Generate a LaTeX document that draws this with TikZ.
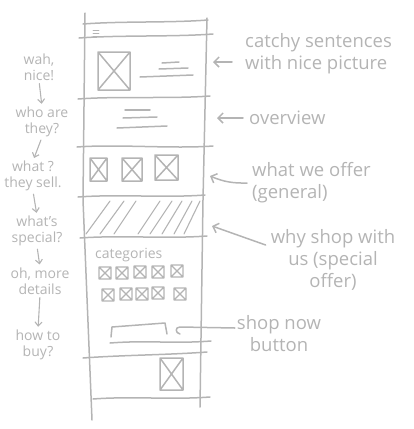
\documentclass[tikz,border=0pt]{standalone}
\usepackage{fontspec}
\setmainfont{Open Sans}
\usetikzlibrary{arrows.meta,calc}
\definecolor{skPen}{HTML}{B4B4B4}

\begin{document}
\begin{tikzpicture}[x=1pt, y=-1pt, line cap=round, line join=round,
  pen/.style={draw=skPen, line width=1.5pt},
  fine/.style={draw=skPen, line width=1.1pt},
  arr/.style={pen, -{Straight Barb[length=5pt,width=10pt]}},
  small arr/.style={fine, -{Straight Barb[length=4pt,width=7pt]}, shorten <=3pt, shorten >=3pt},
  side/.style={text=skPen, font=\fontsize{18.5}{22}\selectfont, align=left, anchor=west, inner sep=0pt},
  note/.style={text=skPen, font=\fontsize{14}{16}\selectfont, align=center, inner sep=0pt}]
  \useasboundingbox (0,0) rectangle (414,429);

  % page column
  \draw[pen] (85,13) -- (83,200) -- (92,420);
  \draw[pen] (207,18) -- (203,200) -- (200,407);
  \foreach \xa/\ya/\xb/\yb in {83/24/208/20, 79/38/213/34, 78/99/210/96, 77/147/213/146,
                               78/197/205/195, 80/238/207/236, 110/343/211/341,
                               83/358/207/352, 93/399/210/397}{
    \draw[pen] (\xa,\ya) .. controls +(40,-3) and +(-40,3) .. (\xb,\yb);
  }

  % header menu
  \foreach \hy in {30,33,36}{
    \draw[fine, line width=0.9pt] (93,\hy) -- (99,\hy);
  }

  % picture placeholders
  \foreach \xa/\ya/\xb/\yb in {98/52/130/90, 90/158/107/181, 122/158/142/181, 155/155/178/180, 160/358/183/390}{
    \draw[pen] (\xa,\ya) rectangle (\xb,\yb) (\xa,\ya) -- (\xb,\yb) (\xa,\yb) -- (\xb,\ya);
  }

  % text lines
  \foreach \xa/\ya/\xb/\yb in {162/63/179/62, 159/69/188/68, 140/77/193/75,
                               125/110/150/110, 123/118/157/117, 117/128/167/126}{
    \draw[pen] (\xa,\ya) -- (\xb,\yb);
  }

  % special offer band
  \foreach \hx/\hl in {86/24, 100/24, 114/22, 138/22, 150/22, 162/20, 174/18, 184/16}{
    \draw[fine] (\hx,234) -- (\hx+\hl,201);
  }

  % categories
  \node[note, anchor=west, font=\fontsize{14}{16}\selectfont] (cat) at (95,255) {categories};
  \foreach \cx/\cy in {105/273, 122/273, 140/272, 158/272, 177/271,
                       108/295, 126/294, 142/294, 158/293, 180/294}{
    \draw[fine] (\cx-6,\cy-6) rectangle (\cx+6,\cy+6) (\cx-6,\cy-6) -- (\cx+6,\cy+6) (\cx-6,\cy+6) -- (\cx+6,\cy-6);
  }

  % shop now button
  \draw[pen] (111,337) -- (112,327) -- (165,323) -- (167,334);

  % notes on the right
  \node[side] (hero) at (245,54) {catchy sentences\\with nice picture};
  \node[side] (ovw) at (249,118) {overview};
  \node[side] (gen) at (252,183) {what we offer\\(general)};
  \node[side, align=center, anchor=center] (why) at (333,260) {why shop with\\us (special\\offer)};
  \node[side, align=center, anchor=center] (btn) at (279,334) {shop now\\button};

  \coordinate (pHero) at (213,62);
  \coordinate (pOvw) at (217,118);
  \coordinate (pGen) at (210,176);
  \coordinate (pWhy) at (212,226);
  \coordinate (pBtn) at (180,327);

  \draw[arr] ($(hero.west)+(-13,8)$) -- (pHero);
  \draw[arr] ([xshift=-6pt]ovw.west) -- (pOvw);
  \draw[arr] ([xshift=-5pt]gen.west) to[bend left=12] (pGen);
  \draw[arr] ([xshift=-5pt]why.west |- 0,245) -- (pWhy);
  \draw[pen] ([xshift=-2pt]btn.west |- 0,328) -- (pBtn) .. controls (175,327) and (175,333) .. (180,334);

  % reader questions on the left
  \node[note] (q1) at (39,67) {wah,\\nice!};
  \node[note] (q2) at (42,122) {who are\\they?};
  \node[note] (q3) at (33,176) {what ?\\they sell.};
  \node[note] (q4) at (37,231) {what's\\special?};
  \node[note] (q5) at (40,281) {oh, more\\details};
  \node[note] (q6) at (38,345) {how to\\buy?};
  \foreach \a/\b in {q1/q2, q2/q3, q3/q4, q4/q5, q5/q6}{
    \draw[small arr] (\a.south) -- (\b.north);
  }
\end{tikzpicture}
\end{document}
